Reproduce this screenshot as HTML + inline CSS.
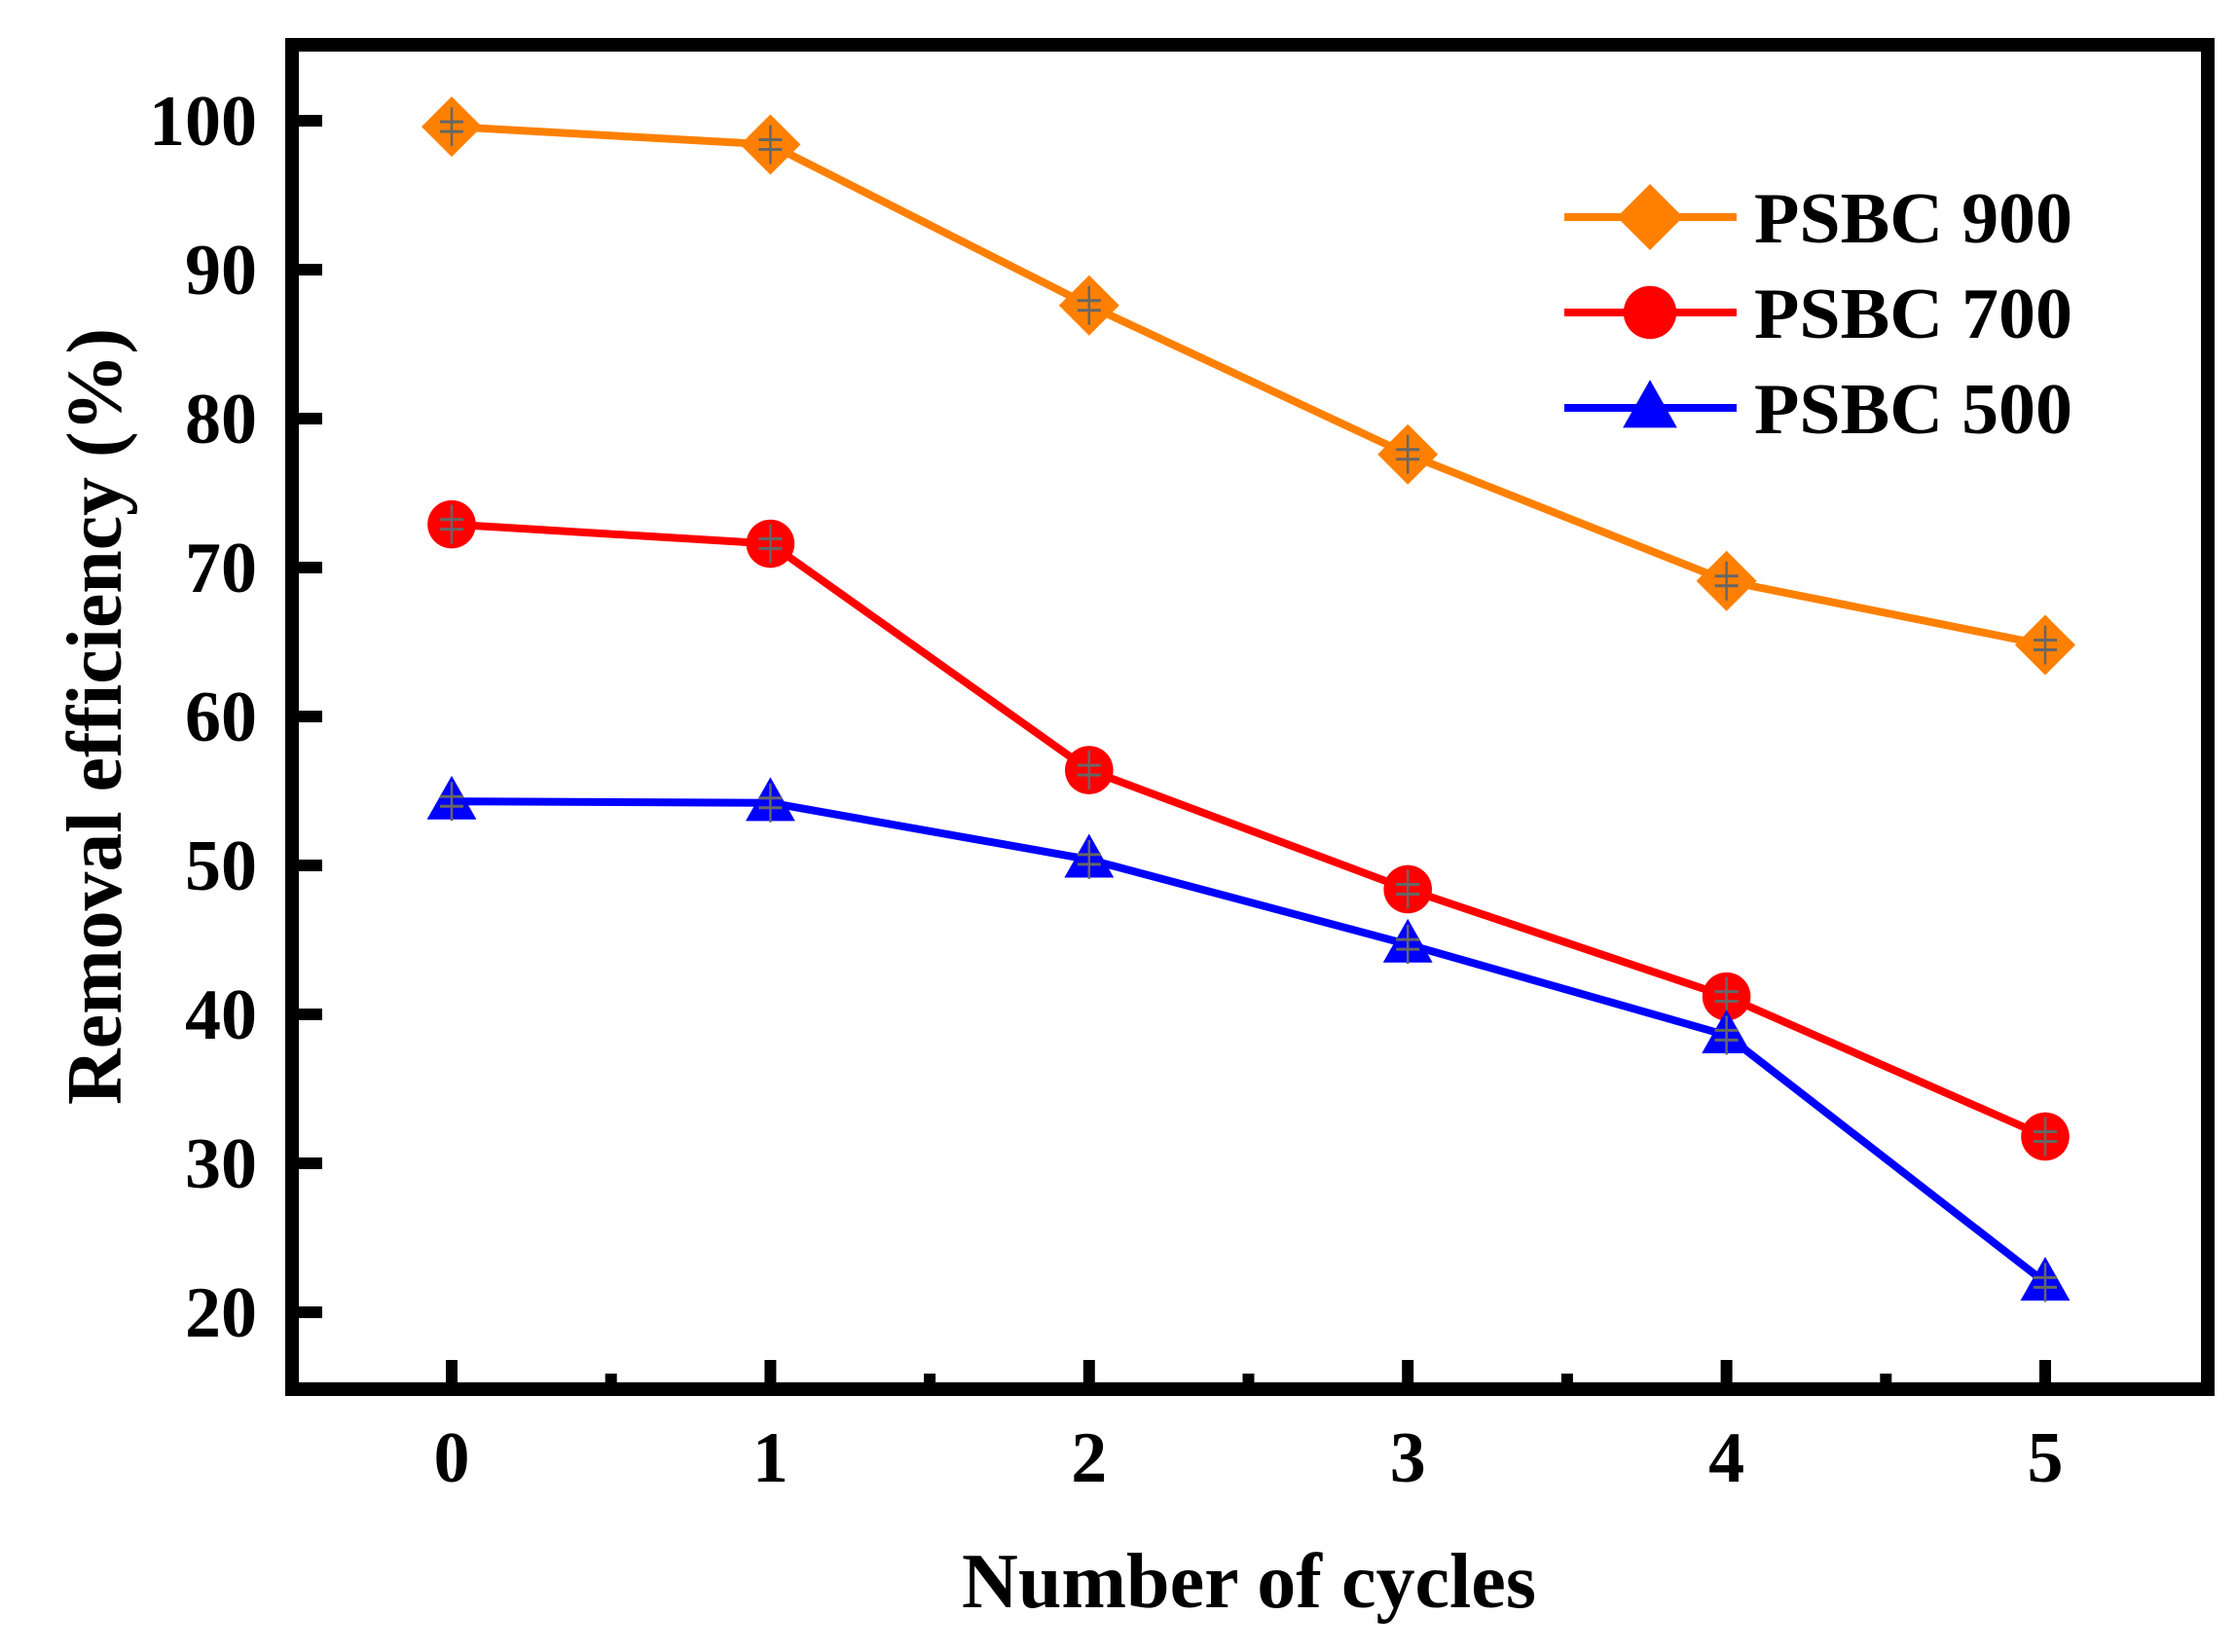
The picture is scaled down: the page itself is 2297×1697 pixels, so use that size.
<!DOCTYPE html>
<html><head><meta charset="utf-8"><style>html,body{margin:0;padding:0;background:#fff}svg{display:block}</style></head>
<body>
<svg id="chart" width="2297" height="1697" viewBox="0 0 2297 1697" xmlns="http://www.w3.org/2000/svg" font-family="'Liberation Serif', serif" font-weight="bold">
<g id="plot"></g>
</svg>
<script>
const cycles = [0, 1, 2, 3, 4, 5];
const psbc900 = [99.6, 98.4, 87.6, 77.6, 69.1, 64.8];
const psbc700 = [72.9, 71.6, 56.4, 48.4, 41.2, 31.8];
const psbc500 = [54.3, 54.2, 50.4, 44.7, 38.6, 22.0];
const yTicks = [20, 30, 40, 50, 60, 70, 80, 90, 100];
const xTickLabels = ["0", "1", "2", "3", "4", "5"];
const seriesNames = ["PSBC 900", "PSBC 700", "PSBC 500"];

const NS = "http://www.w3.org/2000/svg";
const g = document.getElementById("plot");
function X(v){ return 464 + v * 327.4; }
function Y(v){ return 124 + (100 - v) * 15.3; }
function mk(tag, attrs, parent){
  const e = document.createElementNS(NS, tag);
  for (const k in attrs) e.setAttribute(k, attrs[k]);
  (parent || g).appendChild(e);
  return e;
}

let fr = mk("rect", {x:300, y:46, width:1968, height:1381, fill:"none", stroke:"#000", "stroke-width":14});



yTicks.forEach(v => {
  let t = mk("line", {x1:307, x2:331, y1:Y(v), y2:Y(v), stroke:"#000", "stroke-width":12});
  
  
  let l = mk("text", {x:264, y:Y(v)+25, "text-anchor":"end", "font-size":74});
  l.textContent = v;
  
  
});
cycles.forEach((c, i) => {
  let t = mk("line", {x1:X(c), x2:X(c), y1:1421, y2:1397, stroke:"#000", "stroke-width":12});
  
  
  if (i < cycles.length - 1) {
    let m = mk("line", {x1:X(c+0.5), x2:X(c+0.5), y1:1421, y2:1411, stroke:"#000", "stroke-width":12});
    
    
  }
  let l = mk("text", {x:X(c), y:1522, "text-anchor":"middle", "font-size":74});
  l.textContent = xTickLabels[i];
  
  
});

let xt = mk("text", {x:1283, y:1651, "text-anchor":"middle", "font-size":80, textLength:590, lengthAdjust:"spacingAndGlyphs"});
xt.textContent = "Number of cycles";


let yt = mk("text", {x:0, y:0, "text-anchor":"middle", "font-size":80, textLength:798, lengthAdjust:"spacingAndGlyphs", transform:"translate(124,736) rotate(-90)"});
yt.textContent = "Removal efficiency (%)";



function marker(type, cx, cy, color, size, parent){
  let e;
  if (type === "diamond") e = mk("polygon", {points:`${cx-size},${cy} ${cx},${cy-size} ${cx+size},${cy} ${cx},${cy+size}`, fill:color}, parent);
  else if (type === "circle") e = mk("circle", {cx:cx, cy:cy, r:size*0.8, fill:color}, parent);
  else e = mk("polygon", {points:`${cx-size*0.82},${cy+size*0.6} ${cx},${cy-size*0.85} ${cx+size*0.82},${cy+size*0.6}`, fill:color}, parent);
  return e;
}

const series = [
  {vals: psbc900, color:"#FF8000", type:"diamond", id:"psbc-900"},
  {vals: psbc700, color:"#FF0000", type:"circle", id:"psbc-700"},
  {vals: psbc500, color:"#0000FF", type:"triangle", id:"psbc-500"}
];
series.forEach(s => {
  const grp = mk("g", {});
  
  
  const pts = s.vals.map((v, i) => X(cycles[i]) + "," + Y(v)).join(" ");
  let pl = mk("polyline", {points:pts, fill:"none", stroke:s.color, "stroke-width":8, "stroke-linejoin":"round"}, grp);
  
  
  s.vals.forEach((v, i) => {
    const cx = X(cycles[i]), cy = Y(v);
    let m = marker(s.type, cx, cy, s.color, 31, grp);
    
    
    mk("line", {x1:cx, x2:cx, y1:cy-20, y2:cy+20, stroke:"#666", "stroke-width":2.5}, grp);
    mk("line", {x1:cx-12, x2:cx+12, y1:cy-5, y2:cy-5, stroke:"#666", "stroke-width":3}, grp);
    mk("line", {x1:cx-12, x2:cx+12, y1:cy+5, y2:cy+5, stroke:"#666", "stroke-width":3}, grp);
  });
});

const lg = mk("g", {});


series.forEach((s, i) => {
  const y = 223 + i * 98;
  const eg = mk("g", {}, lg);
  
  
  mk("line", {x1:1607, x2:1784, y1:y, y2:y, stroke:s.color, "stroke-width":8}, eg);
  marker(s.type, 1695, y, s.color, 34, eg);
  let t = mk("text", {x:1802, y:y+26, "font-size":74, textLength:327, lengthAdjust:"spacingAndGlyphs"}, eg);
  t.textContent = seriesNames[i];
  
  
});
</script>
</body></html>
